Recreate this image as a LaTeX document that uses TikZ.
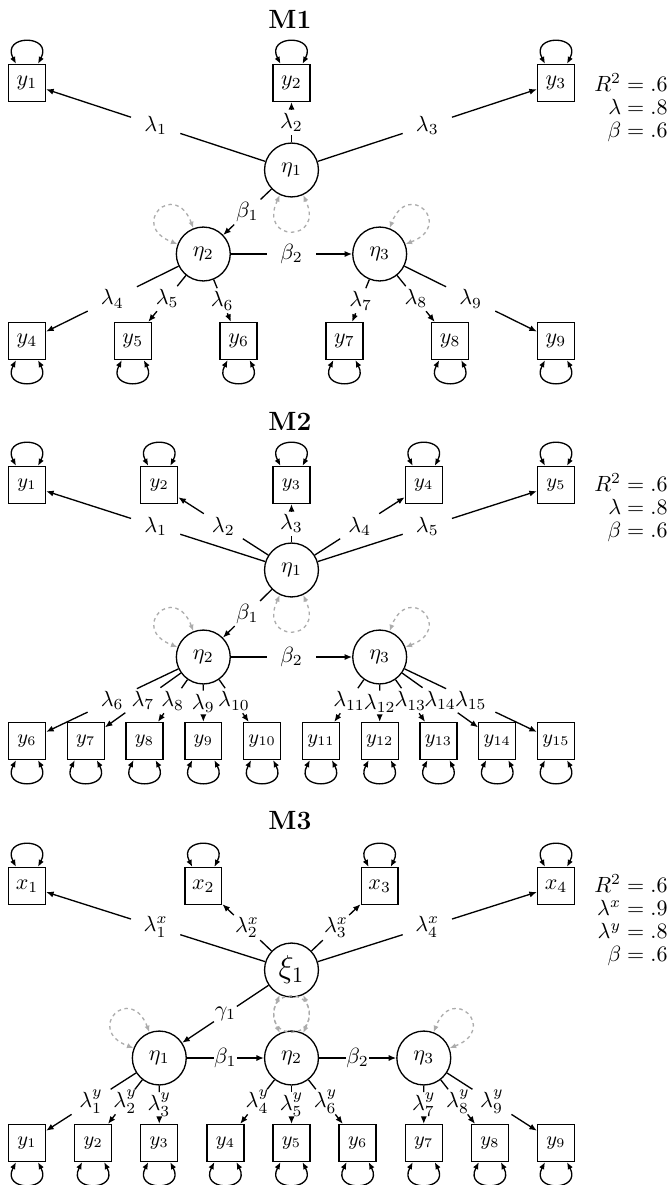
\documentclass[tikz,border=0pt]{standalone}
\usetikzlibrary{arrows.meta}

\tikzset{
  obs/.style={draw, rectangle, semithick, minimum width=16.8pt, minimum height=16.8pt, inner sep=0pt},
  lat/.style={draw, circle, semithick, minimum size=24.5pt, inner sep=0pt},
  lab/.style={rectangle, minimum width=22pt, minimum height=11pt, inner sep=0pt},
  nlab/.style={lab, minimum width=10pt},
  con/.style={semithick},
  arr/.style={semithick, -{Latex[length=3.4pt,width=2.8pt]}},
  oloop/.style={semithick, {Latex[length=3.2pt,width=2.6pt]}-{Latex[length=3.2pt,width=2.6pt]}},
  dloop/.style={gray!65, semithick, dash pattern=on 1.6pt off 1.6pt,
    {Latex[length=3pt,width=2.4pt]}-{Latex[length=3pt,width=2.4pt]}},
  title/.style={font=\large\bfseries},
  fit/.style={anchor=east, align=right, inner sep=0pt},
}

% residual variance loops on indicator boxes
\newcommand{\looptop}[1]{\draw[oloop] ([xshift=-5pt]#1.north) .. controls +(-7pt,13.5pt) and +(7pt,13.5pt) .. ([xshift=5pt]#1.north);}
\newcommand{\loopbot}[1]{\draw[oloop] ([xshift=-5pt]#1.south) .. controls +(-7pt,-13.5pt) and +(7pt,-13.5pt) .. ([xshift=5pt]#1.south);}
% dashed variance loop on a latent variable, between two border angles
\newcommand{\varloop}[3]{\draw[dloop] (#1.#2) .. controls +(#2:24pt) and +(#3:24pt) .. (#1.#3);}
% path with its label node splitting the line
\newcommand{\load}[4][lab]{%
  \path (#2) -- node[#1] (L-#2-#3) {#4} (#3);
  \draw[con] (#2) -- (L-#2-#3);
  \draw[arr] (L-#2-#3) -- (#3);}

\begin{document}
\begin{tikzpicture}[x=0.4545pt, y=-0.4545pt]
\useasboundingbox (0,0) rectangle (670,1185);

% ---------------- M1 ----------------
\node[title] (m1) at (290,19) {M1};
\foreach \i/\x in {1/27,2/291.5,3/556}
  \node[obs] (ay\i) at (\x,83) {$y_{\i}$};
\foreach \i in {4,...,9}
  \node[obs] (ay\i) at ({27+105.8*(\i-4)},341) {$y_{\i}$};
\node[lat] (aeta1) at (291.5,170) {$\eta_1$};
\node[lat] (aeta2) at (203.3,254) {$\eta_2$};
\node[lat] (aeta3) at (379.7,254) {$\eta_3$};
\node[fit] (afit) at (668,108) {$R^2 = .6$\\[-1.5pt]$\lambda = .8$\\[-1.5pt]$\beta = .6$};

\foreach \i in {1,2,3} {\looptop{ay\i}}
\foreach \i in {4,...,9} {\loopbot{ay\i}}
\varloop{aeta1}{245}{295}
\varloop{aeta2}{111}{159}
\varloop{aeta3}{21}{69}

\load{aeta1}{ay1}{$\lambda_1$}
\load{aeta1}{ay2}{$\lambda_2$}
\load{aeta1}{ay3}{$\lambda_3$}
\load{aeta1}{aeta2}{$\beta_1$}
\load{aeta2}{aeta3}{$\beta_2$}
\load{aeta2}{ay4}{$\lambda_4$}
\load{aeta2}{ay5}{$\lambda_5$}
\load{aeta2}{ay6}{$\lambda_6$}
\load{aeta3}{ay7}{$\lambda_7$}
\load{aeta3}{ay8}{$\lambda_8$}
\load{aeta3}{ay9}{$\lambda_9$}

% ---------------- M2 ----------------
\node[title] (m2) at (290,421) {M2};
\foreach \i in {1,...,5}
  \node[obs, font=\small] (by\i) at ({27+132.25*(\i-1)},485) {$y_{\i}$};
\foreach \i in {6,...,15}
  \node[obs, font=\small] (by\i) at ({27+58.78*(\i-6)},741) {$y_{\i}$};
\node[lat] (beta1) at (291.5,570) {$\eta_1$};
\node[lat] (beta2) at (203.3,657) {$\eta_2$};
\node[lat] (beta3) at (379.7,657) {$\eta_3$};
\node[fit] (bfit) at (668,508) {$R^2 = .6$\\[-1.5pt]$\lambda = .8$\\[-1.5pt]$\beta = .6$};

\foreach \i in {1,...,5} {\looptop{by\i}}
\foreach \i in {6,...,15} {\loopbot{by\i}}
\varloop{beta1}{245}{295}
\varloop{beta2}{111}{159}
\varloop{beta3}{21}{69}

\foreach \i in {1,...,5} {\load{beta1}{by\i}{$\lambda_{\i}$}}
\load{beta1}{beta2}{$\beta_1$}
\load{beta2}{beta3}{$\beta_2$}
\foreach \i in {6,...,10} {\load{beta2}{by\i}{$\lambda_{\i}$}}
\foreach \i in {11,...,15} {\load{beta3}{by\i}{$\lambda_{\i}$}}

% ---------------- M3 ----------------
\node[title] (m3) at (290,821) {M3};
\foreach \i in {1,...,4}
  \node[obs] (cx\i) at ({27+176.33*(\i-1)},886) {$x_{\i}$};
\foreach \i in {1,...,9}
  \node[obs, font=\small] (cy\i) at ({27+66.125*(\i-1)},1143) {$y_{\i}$};
\node[lat, font=\Large] (cxi) at (291.5,970) {$\xi_1$};
\node[lat] (ceta1) at (159.3,1058) {$\eta_1$};
\node[lat] (ceta2) at (291.5,1058) {$\eta_2$};
\node[lat] (ceta3) at (423.8,1058) {$\eta_3$};
\node[fit] (cfit) at (668,920) {$R^2 = .6$\\[-1.5pt]$\lambda^x = .9$\\[-1.5pt]$\lambda^y = .8$\\[-1.5pt]$\beta = .6$};

\foreach \i in {1,...,4} {\looptop{cx\i}}
\foreach \i in {1,...,9} {\loopbot{cy\i}}
\varloop{cxi}{245}{295}
\varloop{ceta1}{111}{159}
\varloop{ceta2}{65}{115}
\varloop{ceta3}{21}{69}

\foreach \i in {1,...,4} {\load{cxi}{cx\i}{$\lambda^x_{\i}$}}
\load[nlab]{cxi}{ceta1}{$\gamma_1$}
\load[nlab]{ceta1}{ceta2}{$\beta_1$}
\load[nlab]{ceta2}{ceta3}{$\beta_2$}
\foreach \i in {1,2,3} {\load{ceta1}{cy\i}{$\lambda^y_{\i}$}}
\foreach \i in {4,5,6} {\load{ceta2}{cy\i}{$\lambda^y_{\i}$}}
\foreach \i in {7,8,9} {\load{ceta3}{cy\i}{$\lambda^y_{\i}$}}
\end{tikzpicture}
\end{document}
